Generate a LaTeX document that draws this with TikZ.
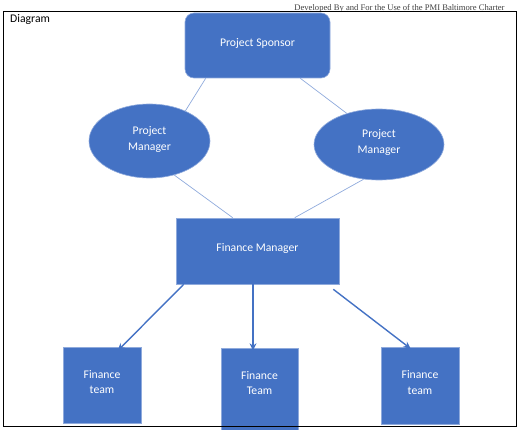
\documentclass[tikz,border=0pt]{standalone}
\usepackage{fontspec}
\setmainfont{Carlito}
\newfontfamily\hdrfont{Liberation Serif}
\usetikzlibrary{arrows.meta,positioning,shapes.geometric}
\definecolor{offblue}{HTML}{4472C4}
\definecolor{edgeblue}{HTML}{8FAADC}

\begin{document}
\begin{tikzpicture}[x=1pt,y=-1pt,
  blk/.style={draw=edgeblue,line width=0.6pt,fill=offblue,inner sep=0pt},
  oval/.style={blk,ellipse},
  txt/.style={text=white,font=\fontsize{11.7}{15.5}\selectfont,align=center,inner sep=0pt},
  link/.style={draw=edgeblue,line width=0.7pt},
  ar/.style={-{Stealth[length=2.6mm,width=2.4mm]},draw=offblue,line width=1.4pt}]

  \useasboundingbox (0,0) rectangle (521,430);

  % header
  \node[font=\hdrfont\fontsize{8.6}{9}\selectfont,text=black!75] (hdr) at (399.5,8.5) {Developed By and For the Use of the PMI Baltimore Charter};

  % top level
  \node[blk,rounded corners=9pt,minimum width=145pt,minimum height=65pt] (sponsor) at (257.5,45.5) {};
  \node[oval,minimum width=121pt,minimum height=74pt] (pmL) at (149.5,141) {};
  \node[oval,minimum width=130pt,minimum height=71pt] (pmR) at (379,144.5) {};
  \node[txt] (sponsorT) at ([yshift=2pt]sponsor) {Project Sponsor};
  \node[txt] (pmLT) at ([yshift=1.5pt]pmL) {Project\\Manager};
  \node[txt] (pmRT) at ([yshift=2pt]pmR) {Project\\Manager};

  % finance
  \node[blk,minimum width=163pt,minimum height=66pt] (fm) at (257.5,251) {};
  \node[blk,minimum width=78pt,minimum height=76pt] (teamL) at (102,385) {};
  \node[blk,minimum width=77pt,minimum height=82pt] (teamM) at (259.5,389) {};
  \node[blk,minimum width=78pt,minimum height=77pt] (teamR) at (420,385.5) {};
  \node[txt] (fmT) at ([yshift=2.5pt]fm) {Finance Manager};
  \node[txt] (teamLT) at ([yshift=3pt]teamL) {Finance\\team};
  \node[txt] (teamMT) at ([yshift=6pt]teamM) {Finance\\Team};
  \node[txt] (teamRT) at ([yshift=3pt]teamR) {Finance\\team};

  \draw[link] ([xshift=21pt]sponsor.south west) -- (pmL.40);
  \draw[link] ([xshift=-30pt]sponsor.south east) -- (pmR.136);
  \draw[link] (pmL.-54) -- ([xshift=57pt]fm.north west);
  \draw[link] (pmR.-114) -- ([xshift=119pt]fm.north west);

  \draw[ar] ([xshift=8pt]fm.south west) -- ([xshift=55pt,yshift=-4pt]teamL.north west);
  \draw[ar] ([xshift=-4.5pt]fm.south) -- ([xshift=-6.5pt,yshift=-3pt]teamM.north);
  \draw[ar] ([xshift=-6pt,yshift=-5pt]fm.south east) -- ([xshift=30pt,yshift=-2pt]teamR.north west);

  % frame
  \draw[black,line width=1pt] (3,12) rectangle (516,426);
  \node[font=\fontsize{11.7}{13}\selectfont,anchor=north west,inner sep=0pt] (title) at (10,14.5) {Diagram};
\end{tikzpicture}
\end{document}
